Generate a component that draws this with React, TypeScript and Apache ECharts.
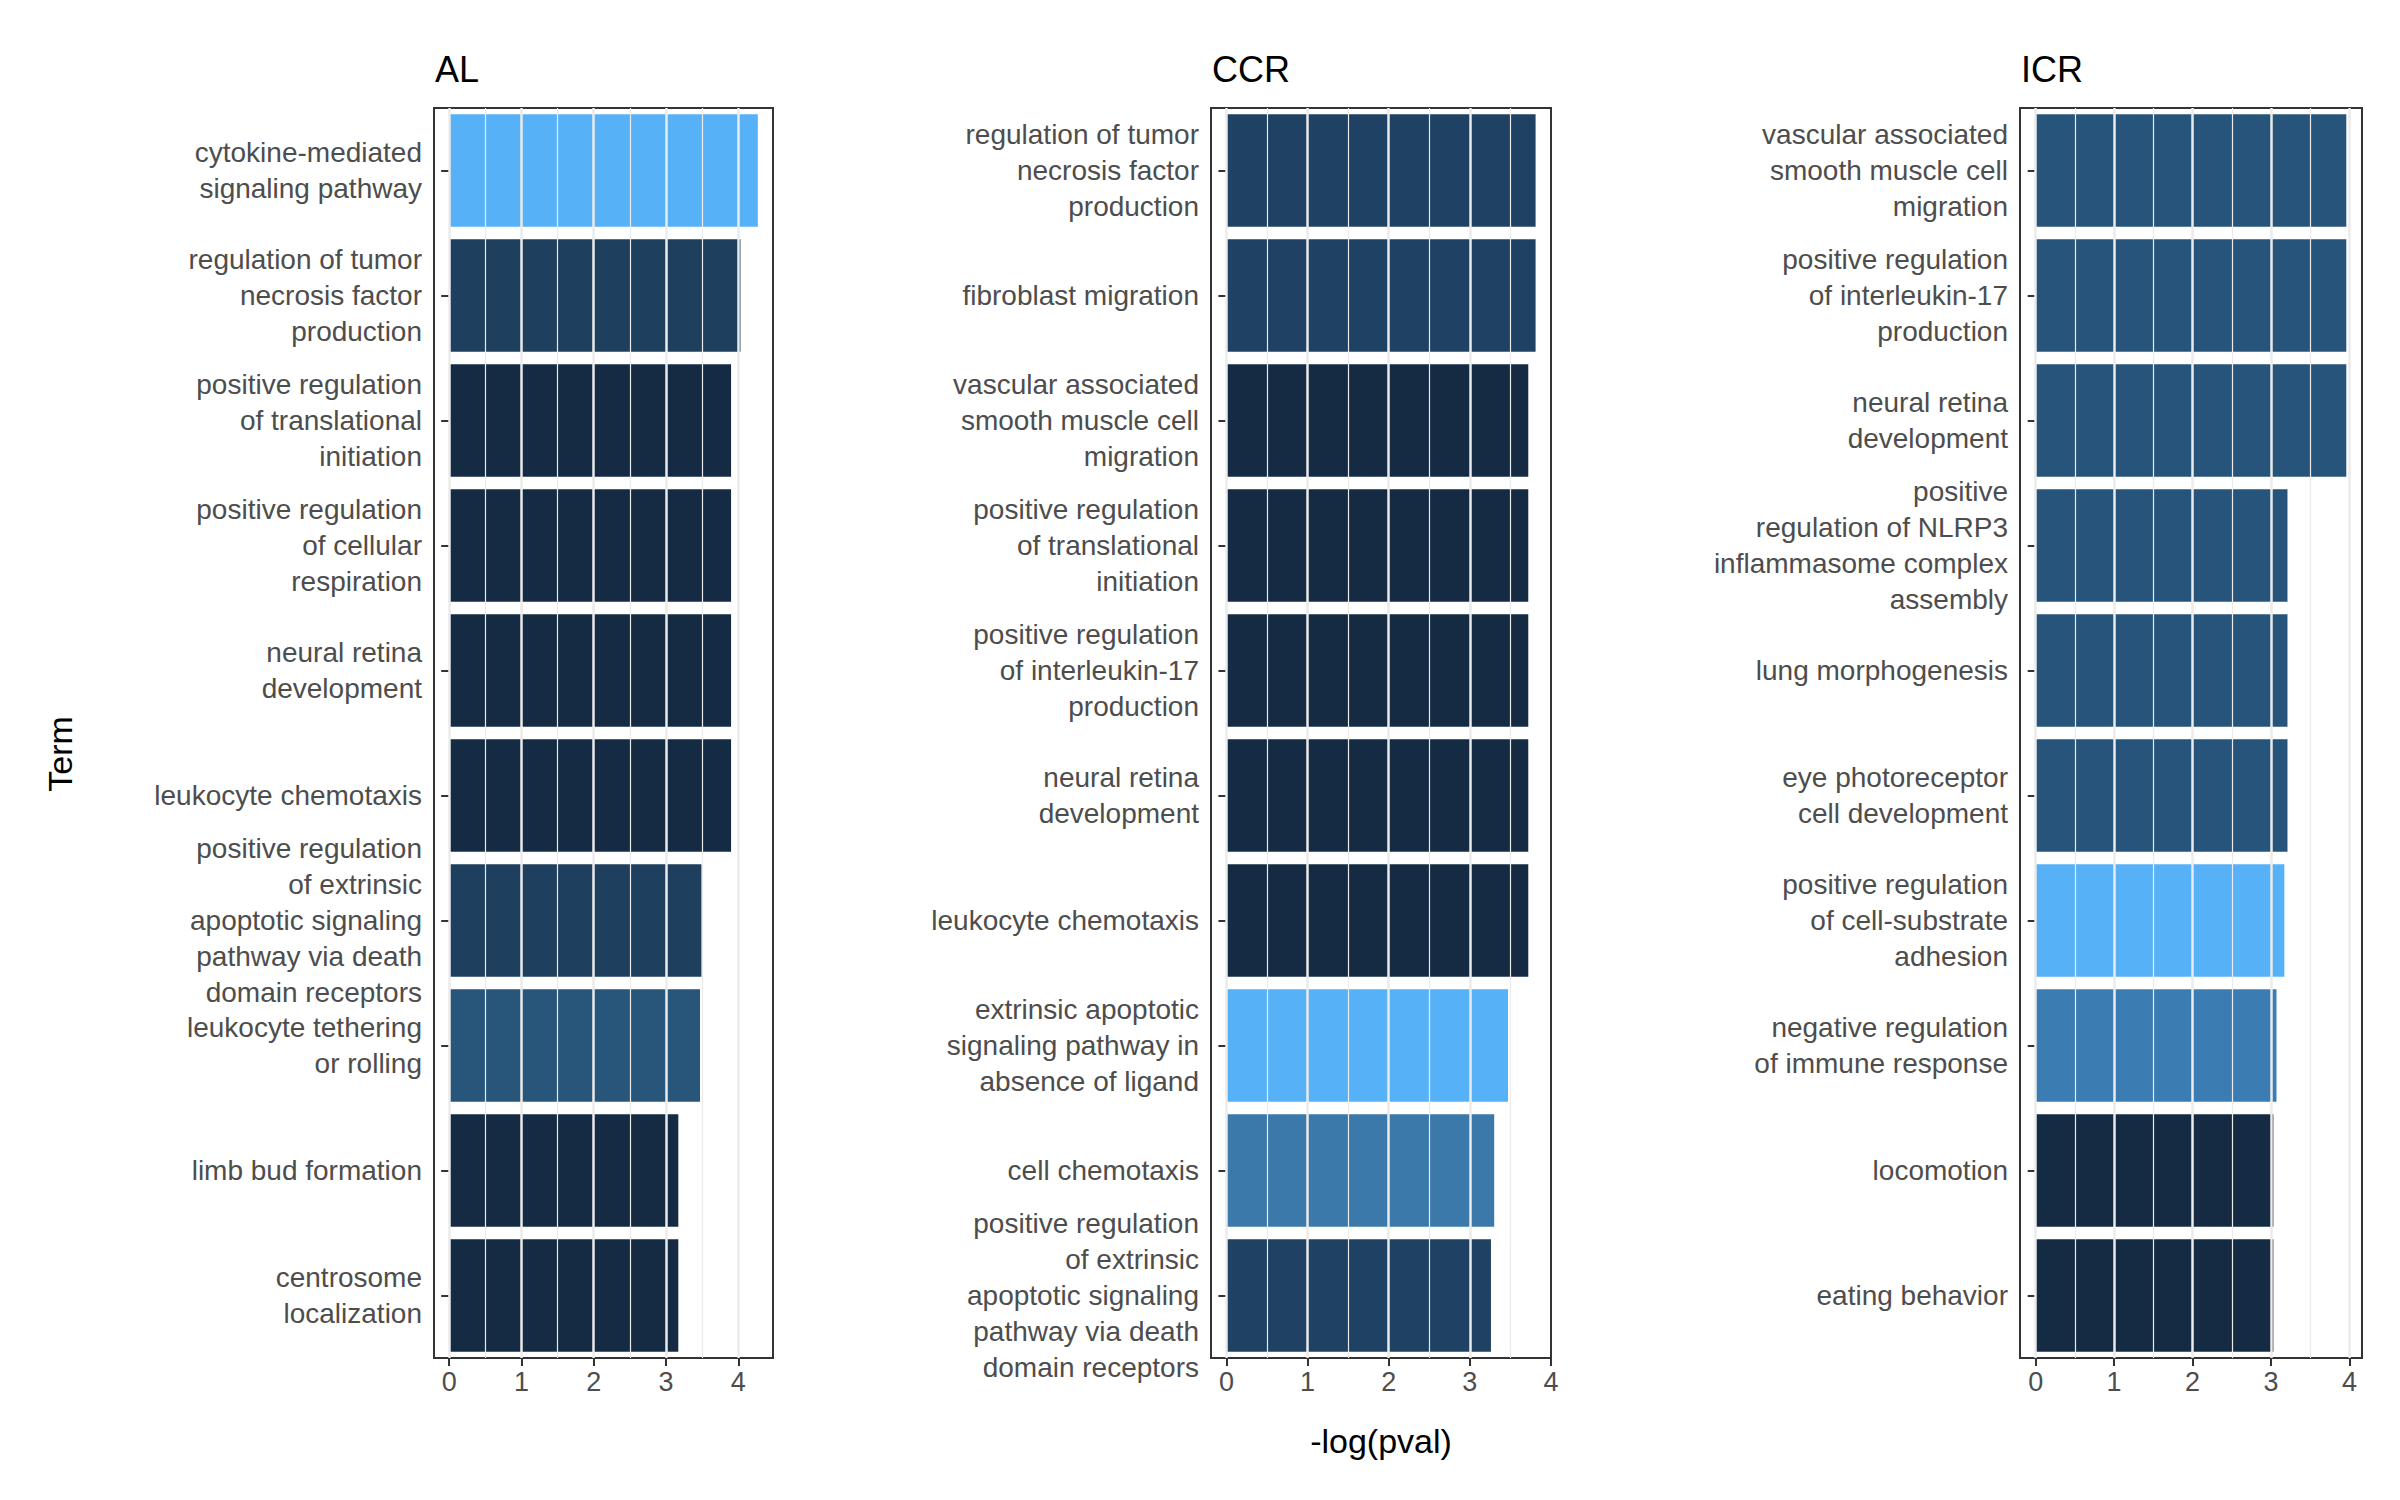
import * as echarts from 'echarts'
import { useEffect, useRef } from 'react'

const alTerms = [
	'cytokine-mediated\nsignaling pathway',
	'regulation of tumor\nnecrosis factor\nproduction',
	'positive regulation\nof translational\ninitiation',
	'positive regulation\nof cellular\nrespiration',
	'neural retina\ndevelopment',
	'leukocyte chemotaxis',
	'positive regulation\nof extrinsic\napoptotic signaling\npathway via death\ndomain receptors',
	'leukocyte tethering\nor rolling',
	'limb bud formation',
	'centrosome\nlocalization',
]
const alValues = [4.27, 4.03, 3.9, 3.9, 3.9, 3.9, 3.49, 3.47, 3.17, 3.17]
const alColors = ['#56B1F7', '#1E3F5E', '#152B43', '#152B43', '#152B43', '#152B43', '#1E3F5E', '#28557A', '#152B43', '#152B43']

const ccrTerms = [
	'regulation of tumor\nnecrosis factor\nproduction',
	'fibroblast migration',
	'vascular associated\nsmooth muscle cell\nmigration',
	'positive regulation\nof translational\ninitiation',
	'positive regulation\nof interleukin-17\nproduction',
	'neural retina\ndevelopment',
	'leukocyte chemotaxis',
	'extrinsic apoptotic\nsignaling pathway in\nabsence of ligand',
	'cell chemotaxis',
	'positive regulation\nof extrinsic\napoptotic signaling\npathway via death\ndomain receptors',
]
const ccrValues = [3.81, 3.81, 3.72, 3.72, 3.72, 3.72, 3.72, 3.47, 3.3, 3.26]
const ccrColors = ['#1F4164', '#1F4164', '#152B43', '#152B43', '#152B43', '#152B43', '#152B43', '#56B1F7', '#3B79AB', '#1F4164']

const icrTerms = [
	'vascular associated\nsmooth muscle cell\nmigration',
	'positive regulation\nof interleukin-17\nproduction',
	'neural retina\ndevelopment',
	'positive\nregulation of NLRP3\ninflammasome complex\nassembly',
	'lung morphogenesis',
	'eye photoreceptor\ncell development',
	'positive regulation\nof cell-substrate\nadhesion',
	'negative regulation\nof immune response',
	'locomotion',
	'eating behavior',
]
const icrValues = [3.96, 3.96, 3.96, 3.21, 3.21, 3.21, 3.17, 3.07, 3.03, 3.03]
const icrColors = ['#26547A', '#26547A', '#26547A', '#26547A', '#26547A', '#26547A', '#56B1F7', '#3B7CB3', '#152B43', '#152B43']

const xTicks = [0, 1, 2, 3, 4]
const gridLines = [0, 0.5, 1, 1.5, 2, 2.5, 3, 3.5, 4]

const panels = [
	{ title: 'AL', terms: alTerms, values: alValues, colors: alColors, left: 426, right: 765, min: -0.21, max: 4.48 },
	{ title: 'CCR', terms: ccrTerms, values: ccrValues, colors: ccrColors, left: 1203, right: 1543, min: -0.19, max: 4.0 },
	{ title: 'ICR', terms: icrTerms, values: icrValues, colors: icrColors, left: 2012, right: 2354, min: -0.2, max: 4.16 },
]

const FONT = 'Liberation Sans, Arial, sans-serif'

const App = () => {
	const chartRef = useRef(null)

	useEffect(() => {
		const myChart = echarts.init(chartRef.current, null, { renderer: 'svg' })

		const option = {
			animation: false,
			textStyle: { fontFamily: FONT },
			title: panels.map((p) => ({
				text: p.title,
				left: p.left - 4,
				top: 38,
				textStyle: { fontSize: 36, fontWeight: 'normal', color: '#000', fontFamily: FONT },
			})),
			graphic: [
				{
					type: 'text',
					x: 52,
					y: 746,
					rotation: Math.PI / 2,
					style: { text: 'Term', fontSize: 34, fill: '#000', fontFamily: FONT, align: 'center', verticalAlign: 'middle' },
				},
				{
					type: 'text',
					x: 1373,
					y: 1433,
					style: { text: '-log(pval)', fontSize: 34, fill: '#000', fontFamily: FONT, align: 'center', verticalAlign: 'middle' },
				},
			],
			grid: panels.map((p) => ({
				left: p.left,
				width: p.right - p.left,
				top: 100,
				height: 1250,
				show: true,
				borderColor: '#333',
				borderWidth: 2,
				backgroundColor: '#fff',
			})),
			xAxis: panels.map((p, i) => ({
				type: 'value',
				gridIndex: i,
				min: p.min,
				max: p.max,
				axisLine: { show: false },
				axisLabel: { color: '#4d4d4d', fontSize: 27, margin: 10, customValues: xTicks },
				axisTick: { show: true, length: 8, lineStyle: { color: '#333', width: 2 }, customValues: xTicks },
				splitLine: { show: false },
			})),
			yAxis: panels.map((p, i) => ({
				type: 'category',
				gridIndex: i,
				inverse: true,
				data: p.terms,
				axisLine: { show: false },
				axisTick: { show: true, alignWithLabel: true, length: 8, lineStyle: { color: '#333', width: 2 } },
				axisLabel: { color: '#4d4d4d', fontSize: 28, lineHeight: 36, align: 'right', margin: 12, interval: 0 },
				splitLine: { show: false },
			})),
			series: [
				// grid lines under the bars
				...panels.map((p, i) => ({
					type: 'line',
					xAxisIndex: i,
					yAxisIndex: i,
					data: [],
					z: 1,
					markLine: {
						silent: true,
						symbol: 'none',
						label: { show: false },
						lineStyle: { color: '#ebebeb', type: 'solid' },
						data: gridLines
							.filter((x) => x < p.max)
							.map((x) => ({ xAxis: x, lineStyle: { width: x % 1 === 0 ? 2.5 : 1.2 } })),
					},
				})),
				...panels.map((p, i) => ({
					type: 'bar',
					xAxisIndex: i,
					yAxisIndex: i,
					barCategoryGap: '10%',
					data: p.values.map((v, j) => ({ value: v, itemStyle: { color: p.colors[j] } })),
					z: 3,
				})),
			],
		}

		myChart.setOption(option)

		return () => {
			myChart.dispose()
		}
	}, [])

	return <div ref={chartRef} style={{ width: '2384px', height: '1484px' }} />
}

export default App
